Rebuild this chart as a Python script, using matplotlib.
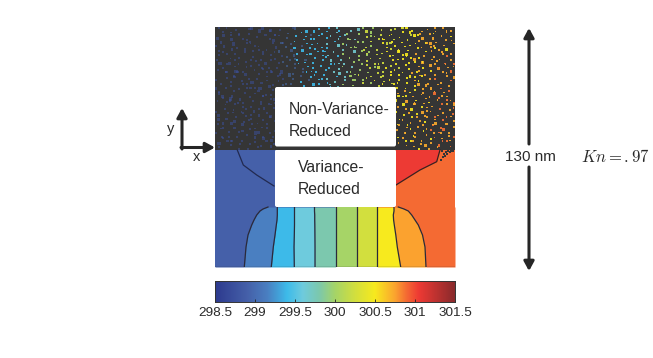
import matplotlib
matplotlib.use("Agg")
import matplotlib.pyplot as plt
import numpy as np
from matplotlib.colors import LinearSegmentedColormap, Normalize
from matplotlib.patches import FancyBboxPatch, Rectangle

plt.rcParams['font.family'] = ['Liberation Sans', 'DejaVu Sans']
plt.rcParams['mathtext.fontset'] = 'cm'

# colour scale
cmap_values = [298.5, 298.9, 299.15, 299.4, 299.6, 299.8, 300.0, 300.25, 300.5, 300.75, 300.9, 301.05, 301.5]
cmap_colors = ['#2d3a8e', '#4560a9', '#4a7fc1', '#3dbbea', '#6fcbdd', '#7cc8ad', '#a5d468',
               '#d2df3e', '#f7ea1e', '#fba52f', '#f46a33', '#ee3a34', '#8a2a2c']
cbar_ticks = [298.5, 299, 299.5, 300, 300.5, 301, 301.5]
cbar_labels = ['298.5', '299', '299.5', '300', '300.5', '301', '301.5']

# Variance-reduced half: contour boundaries (field axes units, x across, y down)
contour_y = [180, 182, 184, 188, 193, 198, 208, 220, 240]
contour_x = [
    [53, 48, 45, 41.7, 39, 36.7, 33, 31, 29.3],
    [62.3, 62.3, 62.3, 62.3, 62, 61.3, 60, 58.3, 56.3],
    [79.5, 79.5, 79.5, 79.5, 79.5, 79.5, 79.3, 79, 79.3],
    [99.5, 99.5, 99.5, 99.7, 99.7, 99.8, 99.9, 100, 100],
    [120.7, 120.7, 120.7, 120.7, 120.7, 120.7, 120.7, 120.7, 120.7],
    [141.7, 141.7, 141.7, 141.7, 141.7, 141.7, 141.7, 141.7, 141.7],
    [162.3, 162.3, 162.3, 162.3, 162.3, 162.3, 162.3, 162.3, 162.3],
    [179, 179, 179, 178.3, 178.6, 179.3, 180.8, 182.3, 185.7],
    [183.3, 189, 193.3, 196.7, 200, 203.3, 207.5, 210, 211],
]
band_temps = [298.9, 299.15, 299.4, 299.6, 299.8, 300.0, 300.25, 300.5, 300.75, 300.9]
left_contour_x = [22.3, 28.3, 41.7, 59]
left_contour_y = [123, 138, 148, 159]
right_contour_x = [181, 205, 221.7, 225]
right_contour_y = [158, 143, 134.7, 123]
hot_temp = 301.05
corner_x = [227, 229, 231, 228, 233, 226, 230, 235, 238, 232, 236]
corner_y = [124, 127, 125, 130, 124, 133, 129, 125, 124, 127, 124]

# Non-variance-reduced half: speckles read by eye on a coarse grid
# (a..i = colder..hotter particle cell, '.' = empty)
temp_codes = {'a': 298.75, 'b': 299.05, 'c': 299.4, 'd': 299.65, 'e': 300.0,
              'f': 300.25, 'g': 300.5, 'h': 300.72, 'i': 300.88}
speckle_rows = [
    "a..a.a..aa.a.a..a..ab.c.c.c.c.dc.d.d.e.e.f.ff.gfgg.h.hh.h.h.",
    ".a.a..a.a..a.aa.a.b..c.b.cc.c.d.de.e.f.e.f.gg.g.g.gh.hgh.hh.",
    "a.aa.a..a.a.a.a...b.c.c.c..c.d.c.e.d.fe.f.g.f.g.fgg.h.h.h.g.",
    ".a..a.a.aa...aa.a.b.c.c.cc.d.c.d.e.e.ef.f.gfg.g.g.h.g.hh.h.h",
    "a.a.a..a.a.a..a.b..c.b.cc.c.c.de.d.e.f.e.g.f.g.gg.g.h.hg.h.h",
    "..a.aa.a..aa.a.a.b.b.c.c.c.c.d.d.e.e.fe.f.gf.gg.g.gh.h.hh.g.",
    "a.a..a.a.a.a.a.ab..bc.cc.c.cd.c.e.d.e.f.ff.g.g.gg.h.g.h.hi.h",
    ".a.aa.a..a.a.aa.a.b.c.b.c.cc.d.d.e.e.e.f.f.gf.g.gh.gh.h.h.h.",
    "a..a.a.a.aa.a..ab.b.b.c.c.c.d.c.d.e.ef.f.ff.gg.g.g.hg.hh.h.i",
    ".a.a.a.aa..a.a.a.b.b.c.cc.c.c.d.e.d.e.f.f.g.fg.gg.hg.h.h.i.h",
    "a.a..a.a.a.aa.a.a..b.b.c.c.cc.d.d.e.e.f.ef.g.gf.g.gh.g.hi.h.",
    "..aa.a.a..a.a.a.a.bb.b.c.c.c.d.d.ee.f.e.f.fg.g.g.h.gh.h.h.hi",
    "a.a.aa..a.a.a..a.a.b.b.cc.c.d.c.d.e.e.ff.f.g.g.gg.gh.h.i.h.h",
    ".a.a..a.aa.a.a.a.b.b.c.b.c.cd.d.d.e.f.e.g.f.gg.g.h.g.h.hh.i.",
    "a.a.a.a..a.a.aa.b.b.b.c.c.c.c.d.e.e.e.f.f.g.fg.g.gh.h.h.i.h.",
    ".a..a.aa.a.a..a.a............................g.hg.gh.h.h.hi.",
    "a.a.a..a.a.aa.a..............................h.g.h.hh.i.h.h.",
    ".a.aa.a.a..a.a.a.............................g.gh.g.hh.i.h.h",
    "a.a..a.a.a.a.aa..............................g.h.gh.hg.h.i.ih",
    "..a.a.aa.a.a.a.a.............................h.g.h.g.hh.i.h.",
    "a.a.a.a..a.aa.a..............................g.h.g.hh.h.i.hi.",
    ".a.aa.a.a.a..a.a.............................h.gh.g.h.ih.h.i",
    "a..a.a.a.a.a.aa..............................g.h.gh.h.h.i.ih",
    ".a.a.a.aa.a.a.a..............................h.g.h.hg.ih.h.h",
    "a.a.a..a.a.a.a.a.............................g.hg.h.h.h.ii.h",
    ".a.a.aa.a.a..a.a.............................h.g.h.g.hi.h.h.",
    "a..a.a.a.a.aa.a..............................g.h.gh.h.h.i.hi",
    ".aa.a.a..a.a.a.a.............................g.h.h.h.gi.h.i.",
    "a.a.a.a.a.a..a.a.............................h.g.g.hh.h.i.h.",
    ".a.a..a.a.aa.a...............................g.h.h.g.h.hi.i.",
]
# small hand-set nudges and sizes so the speckles do not sit on the table's grid
nudge_x = [1.6, -2.1, 0.4, 2.3, -0.9, -1.7, 1.1, -0.2, 2.0, -2.4, 0.8]
nudge_y = [-1.4, 2.2, 0.3, -2.3, 1.2, -0.6, 2.4, -1.9, 0.9]
dot_sizes = [1.4, 2.0, 1.2, 2.8, 1.6, 1.3, 4.5, 1.7, 1.4, 2.2, 1.2, 1.5, 1.8]

cmap = LinearSegmentedColormap.from_list(
    'field', [((v - 298.5) / 3.0, c) for v, c in zip(cmap_values, cmap_colors)])
norm = Normalize(298.5, 301.5)

W, H = 653, 358
fig = plt.figure(figsize=(W / 100, H / 100), dpi=100, facecolor='white')


def box(x0, y0, x1, y1):
    return [x0 / W, 1 - y1 / H, (x1 - x0) / W, (y1 - y0) / H]


# ---- field
ax = fig.add_axes(box(215, 27, 455, 267))
ax.set_xlim(0, 240)
ax.set_ylim(240, 0)
ax.axis('off')
dark = '#353535'
ax.add_patch(Rectangle((0, 0), 240, 123, fc=dark, ec='none', zorder=1))

ys = np.array(contour_y, float)
edges = [np.zeros(len(ys))] + [np.array(c, float) for c in contour_x] + [np.full(len(ys), 240.0)]
ax.add_patch(Rectangle((0, 123), 120, 117, fc=cmap(norm(band_temps[0])), ec='none', zorder=1))
ax.add_patch(Rectangle((120, 123), 120, 117, fc=cmap(norm(band_temps[-1])), ec='none', zorder=1))
for i, t in enumerate(band_temps):
    ax.fill_betweenx(ys, edges[i], edges[i + 1], color=cmap(norm(t)), lw=0, zorder=2)
ax.fill(right_contour_x + [right_contour_x[0]], right_contour_y + [right_contour_y[-1]],
        color=cmap(norm(hot_temp)), lw=0, zorder=2)
for c in contour_x:
    ax.plot(c, contour_y, color='#2a2a3a', lw=0.9, zorder=3)
ax.plot(left_contour_x, left_contour_y, color='#222a50', lw=0.9, zorder=3)
ax.plot(right_contour_x, right_contour_y, color='#3a2020', lw=0.9, zorder=3)
ax.plot([0, 240], [239.6, 239.6], color='#333333', lw=0.9, zorder=3)
ax.scatter(corner_x, corner_y, s=2.5, marker='s', color=dark, lw=0, zorder=3)

# speckles
px, py, pv, ps = [], [], [], []
for r, row in enumerate(speckle_rows):
    for c, ch in enumerate(row):
        if ch in temp_codes:
            px.append(min(239, max(1, c * 4 + 2 + nudge_x[(c * 3 + r * 5) % len(nudge_x)])))
            py.append(min(122, max(1, r * 4.07 + 2 + nudge_y[(c * 7 + r * 2) % len(nudge_y)])))
            pv.append(temp_codes[ch])
            ps.append(dot_sizes[(c * 5 + r * 3) % len(dot_sizes)])
px, py, pv, ps = map(np.array, (px, py, pv, ps))
cold = pv < 299.2
ax.scatter(px[cold], py[cold], c=pv[cold], cmap=cmap, norm=norm, s=ps[cold] * 1.3, marker='s',
           lw=0, alpha=0.5, zorder=2)
ax.scatter(px[~cold], py[~cold], c=pv[~cold], cmap=cmap, norm=norm, s=ps[~cold], marker='s',
           lw=0, alpha=0.9, zorder=2)

# white solid, dark divider
for y0, y1 in [(60, 119.5), (122.5, 180)]:
    ax.add_patch(FancyBboxPatch((60 + 1.5, y0 + 1.5), 121 - 3, y1 - y0 - 3,
                                boxstyle='round,pad=1.5,rounding_size=2',
                                fc='white', ec='none', zorder=4))
ax.add_patch(Rectangle((60, 119.5), 121, 3.2, fc=dark, ec='none', zorder=4))
for x, y, s in [(74, 83, 'Non-Variance-'), (74, 105, 'Reduced'),
                (83, 141, 'Variance-'), (83, 162, 'Reduced')]:
    ax.text(x, y, s, fontsize=11.3, color='#2a2a2a', va='center', ha='left', zorder=5)

# ---- colour bar
cax = fig.add_axes(box(215, 281, 455, 302))
grad = np.linspace(298.5, 301.5, 256)[None, :]
cax.imshow(grad, cmap=cmap, norm=norm, aspect='auto', extent=(298.5, 301.5, 0, 1))
cax.set_yticks([])
cax.set_xticks(cbar_ticks)
cax.set_xticklabels(cbar_labels, fontsize=9.7, color='#2a2a2a')
cax.tick_params(axis='x', direction='in', length=2.5, width=0.6, color='#222222', pad=3.5)
for s in cax.spines.values():
    s.set_linewidth(0.7)
    s.set_color('#333333')

# ---- annotations
ov = fig.add_axes([0, 0, 1, 1])
ov.set_xlim(0, W)
ov.set_ylim(H, 0)
ov.axis('off')
ov.patch.set_alpha(0)
arrow = dict(arrowstyle='-|>,head_length=0.55,head_width=0.3', color='#262626', lw=2.2,
             shrinkA=0, shrinkB=0, mutation_scale=10)
for start, end in [((529, 144), (529, 28)), ((529, 167), (529, 271)),
                   ((182, 149), (182, 108)), ((181, 147.5), (215, 147.5))]:
    ov.annotate('', xy=end, xytext=start, arrowprops=arrow)
ov.text(171, 129, 'y', fontsize=10.5, color='#2a2a2a', ha='center', va='center')
ov.text(197, 157, 'x', fontsize=10.5, color='#2a2a2a', ha='center', va='center')
ov.text(530, 157, '130 nm', fontsize=11, color='#2a2a2a', ha='center', va='center')
ov.text(581, 157, r'$Kn = {.}97$', fontsize=12, color='#2a2a2a', ha='left', va='center')

fig.savefig('out.png', dpi=100, facecolor='white')
